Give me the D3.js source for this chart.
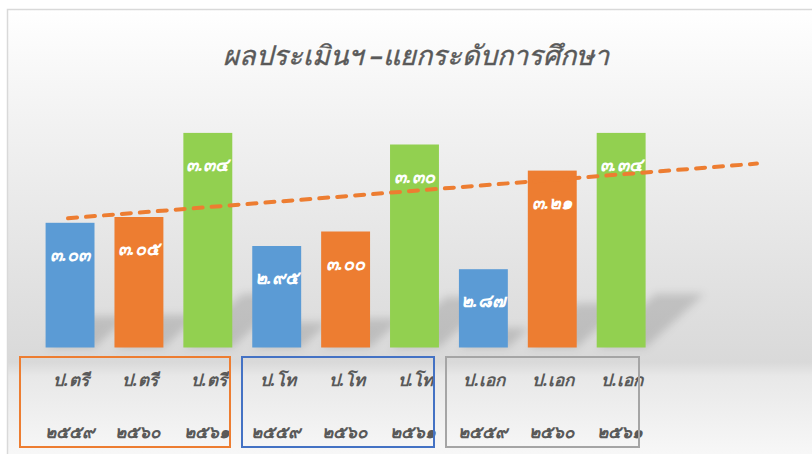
<!DOCTYPE html>
<html>
<head>
<meta charset="utf-8">
<script src="https://cdn.jsdelivr.net/npm/d3@7"></script>
<style>
	html, body { margin: 0; padding: 0; background: #fff; }
	svg { display: block; font-family: "Noto Sans", "DejaVu Sans", sans-serif; }
</style>
</head>
<body>
<div id="chart"></div>
<script>
const title = 'ผลประเมินฯ –แยกระดับการศึกษา';
const degrees = ['ป.ตรี', 'ป.ตรี', 'ป.ตรี', 'ป.โท', 'ป.โท', 'ป.โท', 'ป.เอก', 'ป.เอก', 'ป.เอก'];
const years = ['๒๕๕๙', '๒๕๖๐', '๒๕๖๑', '๒๕๕๙', '๒๕๖๐', '๒๕๖๑', '๒๕๕๙', '๒๕๖๐', '๒๕๖๑'];
const scores = [3.03, 3.05, 3.34, 2.95, 3.0, 3.3, 2.87, 3.21, 3.34];
const barColors = ['#5b9bd5', '#ed7d31', '#92d050'];
const groupColors = ['#ed7d31', '#4472c4', '#a5a5a5'];
const forwardPeriods = 2;

const width = 812;
const height = 454;

const thaiDigits = '๐๑๒๓๔๕๖๗๘๙';
const toThai = (s) => s.replace(/[0-9]/g, (d) => thaiDigits[+d]);

const svg = d3
	.select('#chart')
	.append('svg')
	.attr('width', width)
	.attr('height', height);

const defs = svg.append('defs');
const bg = defs
	.append('linearGradient')
	.attr('id', 'bg')
	.attr('x1', 0).attr('y1', 0)
	.attr('x2', 0).attr('y2', 1);
[
	[0, '#ffffff'],
	[0.2, '#f4f4f4'],
	[0.76, '#d9d9d9'],
	[0.79, '#e8e8e8'],
	[1, '#fbfbfb'],
].forEach(([o, c]) => bg.append('stop').attr('offset', o).attr('stop-color', c));

defs.append('filter')
	.attr('id', 'blur')
	.attr('x', '-50%').attr('y', '-50%')
	.attr('width', '200%').attr('height', '200%')
	.append('feGaussianBlur')
	.attr('stdDeviation', 4);

// chart area
svg.append('rect')
	.attr('x', 7.5)
	.attr('y', 9.5)
	.attr('width', width + 10)
	.attr('height', height + 10)
	.attr('fill', 'url(#bg)')
	.attr('stroke', '#d9d9d9')
	.attr('stroke-width', 1.5);

svg.append('text')
	.attr('x', 416)
	.attr('y', 65)
	.attr('text-anchor', 'middle')
	.attr('font-size', 27)
	.attr('font-style', 'italic')
	.attr('fill', '#595959')
	.attr('stroke', '#595959')
	.attr('stroke-width', 0.4)
	.text(title);

const idx = d3.range(scores.length);

const x = d3
	.scaleBand()
	.domain(idx)
	.range([35.6, 655.6])
	.paddingInner(0.29)
	.paddingOuter(0.145);

const y = d3.scaleLinear().domain([2.6, 3.4]).range([347.5, 115.5]);

const xc = (i) => x(0) + x.bandwidth() / 2 + i * x.step();

// perspective shadows behind the bars
svg.append('g')
	.attr('filter', 'url(#blur)')
	.selectAll('path')
	.data(idx)
	.join('path')
	.attr('fill', 'rgba(0,0,0,0.14)')
	.attr('d', (i) => {
		const x0 = x(i);
		const x1 = x0 + x.bandwidth();
		const y0 = y(2.6);
		const h = (y0 - y(scores[i])) * 0.25;
		const dx = h * 1.1;
		return `M${x0},${y0}L${x1},${y0}L${x1 + dx},${y0 - h}L${x0 + dx},${y0 - h}Z`;
	});

svg.append('g')
	.selectAll('rect')
	.data(idx)
	.join('rect')
	.attr('x', (i) => x(i))
	.attr('y', (i) => y(scores[i]))
	.attr('width', x.bandwidth())
	.attr('height', (i) => y(2.6) - y(scores[i]))
	.attr('fill', (i) => barColors[i % 3]);

// linear trend line, forecast forward two periods
const n = scores.length;
const mx = d3.mean(idx);
const my = d3.mean(scores);
const slope =
	d3.sum(idx, (i) => (i - mx) * (scores[i] - my)) /
	d3.sum(idx, (i) => (i - mx) * (i - mx));
const trend = (i) => my + slope * (i - mx);
const trendEnds = [0, n - 1 + forwardPeriods];

svg.append('path')
	.datum(trendEnds)
	.attr('fill', 'none')
	.attr('stroke', '#ed7d31')
	.attr('stroke-width', 4)
	.attr('stroke-linecap', 'round')
	.attr('stroke-dasharray', '9 9')
	.attr(
		'd',
		d3
			.line()
			.x((i) => xc(i) - 2)
			.y((i) => y(trend(i)))
	);

// value labels
svg.append('g')
	.selectAll('text')
	.data(idx)
	.join('text')
	.attr('x', (i) => xc(i))
	.attr('y', (i) => y(scores[i]) + 38)
	.attr('text-anchor', 'middle')
	.attr('font-size', 18)
	.attr('font-weight', 'bold')
	.attr('font-style', 'italic')
	.attr('fill', '#ffffff')
	.text((i) => toThai(scores[i].toFixed(2)));

// category labels
const cat = svg.append('g')
	.attr('font-size', 17)
	.attr('font-weight', 'bold')
	.attr('font-style', 'italic')
	.attr('fill', '#595959')
	.attr('text-anchor', 'middle');

cat.selectAll('.deg')
	.data(idx)
	.join('text')
	.attr('class', 'deg')
	.attr('x', (i) => xc(i) + 1)
	.attr('y', 386)
	.text((i) => degrees[i]);

cat.selectAll('.yr')
	.data(idx)
	.join('text')
	.attr('class', 'yr')
	.attr('x', (i) => xc(i) - 1)
	.attr('y', 438)
	.text((i) => years[i]);

// group boxes
const boxes = [
	[20, 230],
	[242, 434],
	[446, 639],
];
svg.append('g')
	.selectAll('rect')
	.data(boxes)
	.join('rect')
	.attr('x', (d) => d[0])
	.attr('y', 357)
	.attr('width', (d) => d[1] - d[0])
	.attr('height', 90)
	.attr('fill', 'none')
	.attr('stroke', (d, i) => groupColors[i])
	.attr('stroke-width', 2);
</script>
</body>
</html>
